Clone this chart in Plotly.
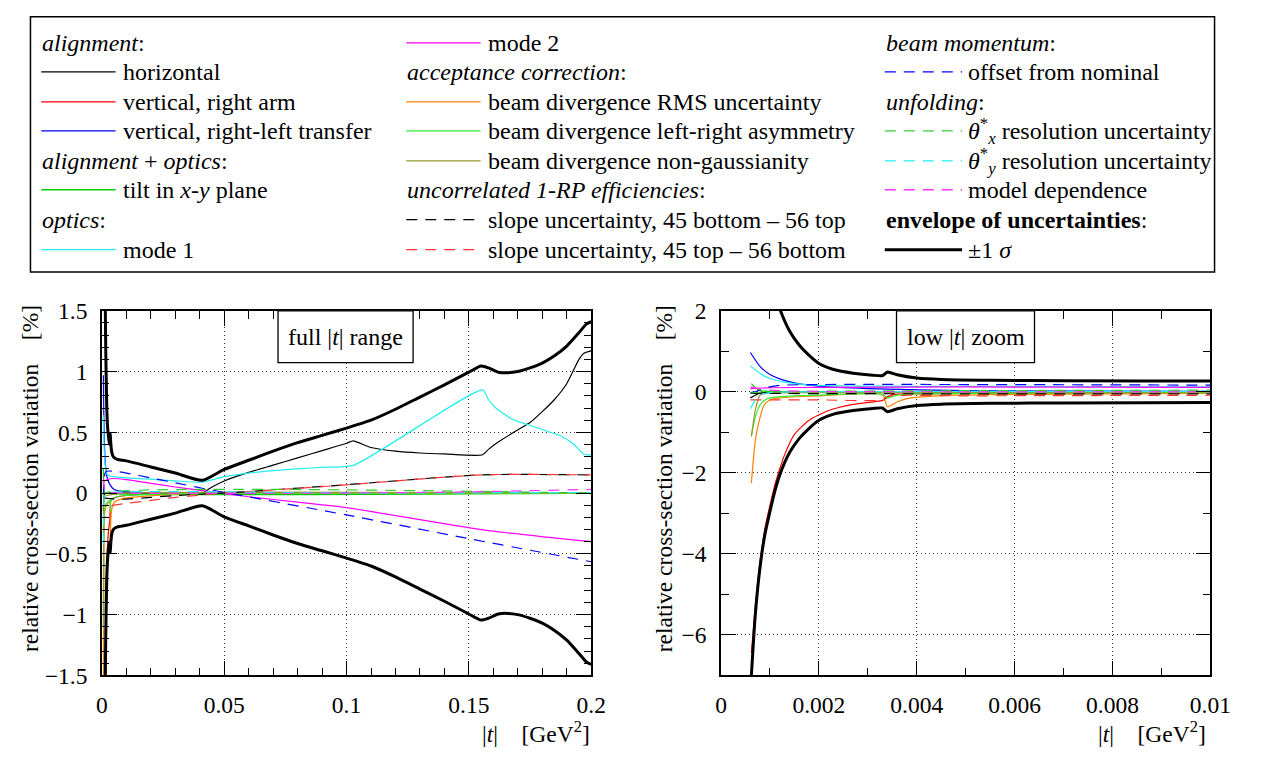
import plotly.graph_objects as go

# ---------------- data (|t| in GeV^2, relative variation in %) ----------------
T_ENV = [0.00062, 0.0007, 0.0008, 0.0009, 0.001, 0.0011, 0.0012, 0.0014, 0.0016, 0.0018, 0.002, 0.0023,
         0.0027, 0.0031, 0.0033, 0.0034, 0.0036, 0.004, 0.0045, 0.0055, 0.007, 0.01, 0.02, 0.03, 0.041,
         0.05, 0.06, 0.07, 0.08, 0.09, 0.1, 0.11, 0.12, 0.13, 0.14, 0.15, 0.155, 0.158, 0.162, 0.166,
         0.17, 0.175, 0.18, 0.185, 0.19, 0.195, 0.198, 0.2]
ENV = [7.0, 5.5, 4.3, 3.5, 2.95, 2.45, 2.05, 1.5, 1.15, 0.9, 0.7, 0.55,
       0.46, 0.41, 0.40, 0.49, 0.42, 0.34, 0.305, 0.285, 0.275, 0.265, 0.215, 0.165, 0.105,
       0.195, 0.27, 0.345, 0.415, 0.475, 0.535, 0.6, 0.69, 0.79, 0.89, 0.995, 1.045, 1.03, 0.995, 0.99,
       1.0, 1.03, 1.07, 1.13, 1.21, 1.32, 1.39, 1.41]

T_HOR = [0.0006, 0.0008, 0.001, 0.002, 0.01, 0.03, 0.041, 0.045, 0.05, 0.06, 0.07, 0.08, 0.09, 0.1,
         0.1027, 0.11, 0.12, 0.13, 0.14, 0.1556, 0.158, 0.162, 0.17, 0.175, 0.18, 0.185, 0.19, 0.195,
         0.197, 0.2]
HOR = [-0.15, -0.03, -0.01, 0.0, 0.0, 0.0, 0.0, 0.05, 0.1, 0.17, 0.23, 0.29, 0.35, 0.41,
       0.43, 0.375, 0.345, 0.33, 0.322, 0.315, 0.36, 0.42, 0.52, 0.58, 0.67, 0.77, 0.9, 1.1,
       1.15, 1.17]

T_RED = [0.00062, 0.0007, 0.0008, 0.0009, 0.001, 0.0011, 0.0012, 0.0013, 0.0015, 0.0018, 0.0022,
         0.0027, 0.0033, 0.0035, 0.004, 0.005, 0.01, 0.03, 0.2]
RED = [-6.45, -5.3, -4.15, -3.35, -2.8, -2.3, -1.9, -1.55, -1.05, -0.7, -0.46,
       -0.31, -0.21, -0.07, -0.05, -0.04, -0.02, 0.0, 0.0]

T_VRL = [0.0006, 0.0008, 0.001, 0.0012, 0.0015, 0.002, 0.003, 0.005, 0.01, 0.05, 0.2]
VRL = [0.97, 0.62, 0.43, 0.32, 0.22, 0.14, 0.08, 0.03, 0.01, 0.0, 0.0]

T_TILT = [0.00062, 0.0007, 0.0008, 0.001, 0.002, 0.2]
TILT = [0.2, 0.1, 0.03, 0.01, 0.0, 0.0]

T_M1 = [0.0006, 0.0008, 0.001, 0.0013, 0.0016, 0.002, 0.003, 0.005, 0.01, 0.02, 0.03, 0.041, 0.05,
        0.06, 0.07, 0.081, 0.09, 0.1027, 0.1556, 0.158, 0.161, 0.1676, 0.1876, 0.193, 0.197, 0.2]
M1 = [0.64, 0.45, 0.33, 0.24, 0.19, 0.16, 0.14, 0.135, 0.125, 0.115, 0.1, 0.09, 0.135,
      0.165, 0.185, 0.201, 0.212, 0.228, 0.849, 0.77, 0.7, 0.61, 0.47, 0.4, 0.32, 0.315]

T_M2 = [0.0006, 0.001, 0.002, 0.005, 0.01, 0.02, 0.03, 0.041, 0.06, 0.08, 0.1, 0.155, 0.2]
M2 = [0.08, 0.1, 0.11, 0.12, 0.11, 0.08, 0.05, 0.02, -0.03, -0.075, -0.12, -0.3, -0.4]

T_RMS = [0.00062, 0.0007, 0.00078, 0.00088, 0.001, 0.0012, 0.0016, 0.002, 0.0033, 0.0034, 0.0036,
         0.0038, 0.0044, 0.0055, 0.01, 0.03, 0.05, 0.2]
RMS = [-2.25, -1.2, -0.71, -0.33, -0.2, -0.15, -0.12, -0.1, -0.07, -0.37, -0.25,
       -0.17, -0.1, -0.07, -0.04, -0.01, 0.0, 0.0]

T_LRA = [0.00062, 0.0007, 0.0008, 0.0009, 0.001, 0.0015, 0.002, 0.0033, 0.0034, 0.0036, 0.004,
         0.006, 0.01, 0.05, 0.2]
LRA = [-1.1, -0.62, -0.32, -0.2, -0.15, -0.1, -0.08, -0.06, -0.15, -0.08, -0.05,
       -0.03, -0.02, 0.0, 0.0]

T_NG = [0.00062, 0.0007, 0.0008, 0.001, 0.002, 0.01, 0.2]
NG = [-1.1, -0.45, -0.08, -0.03, -0.02, 0.0, 0.0]

T_SL1 = [0.0006, 0.005, 0.01, 0.02, 0.03, 0.041, 0.05, 0.081, 0.1, 0.155, 0.2]
SL1 = [-0.04, -0.05, -0.05, -0.035, -0.02, -0.008, 0.0, 0.042, 0.069, 0.15, 0.15]

T_SL2 = [0.0006, 0.002, 0.0033, 0.0034, 0.005, 0.01, 0.02, 0.03, 0.041, 0.05, 0.081, 0.1, 0.155, 0.2]
SL2 = [-0.2, -0.2, -0.2, -0.11, -0.1, -0.085, -0.06, -0.035, -0.015, 0.0, 0.04, 0.068, 0.15, 0.15]

T_BMO = [0.0006, 0.0007, 0.0009, 0.0012, 0.002, 0.005, 0.01, 0.02, 0.03, 0.041, 0.1, 0.15, 0.2]
BMO = [-0.02, 0.0, 0.1, 0.16, 0.18, 0.18, 0.165, 0.125, 0.085, 0.04, -0.18, -0.375, -0.565]

T_THX = [0.0006, 0.001, 0.2]
THX = [-0.03, 0.0, 0.0]

T_THY = [0.0006, 0.0007, 0.0008, 0.001, 0.002, 0.1, 0.2]
THY = [-0.42, -0.2, -0.08, -0.02, 0.0, 0.0, 0.005]

T_MOD = [0.0006, 0.0008, 0.001, 0.002, 0.01, 0.1, 0.15, 0.2]
MOD = [0.12, 0.07, 0.04, 0.01, 0.0, 0.0, 0.01, 0.03]

# ---------------- styles / layout ----------------
W, H = 1261, 764
FONT = "Liberation Serif, Times New Roman, serif"
FS = 23.5      # axis text
FL = 24        # legend / box text
DASH = "11px,8px"

C_CYAN = "#22eeee"
SERIES = [
    (T_HOR, HOR, "#000000", "solid"),
    (T_RED, RED, "#ff0000", "solid"),
    (T_VRL, VRL, "#0000ff", "solid"),
    (T_TILT, TILT, "#00cc00", "solid"),
    (T_M1, M1, C_CYAN, "solid"),
    (T_M2, M2, "#ff00ff", "solid"),
    (T_RMS, RMS, "#ff8000", "solid"),
    (T_LRA, LRA, "#33ee33", "solid"),
    (T_NG, NG, "#999933", "solid"),
    (T_SL1, SL1, "#000000", DASH),
    (T_SL2, SL2, "#ff3333", DASH),
    (T_BMO, BMO, "#0000ff", DASH),
    (T_THX, THX, "#33cc33", DASH),
    (T_THY, THY, C_CYAN, DASH),
    (T_MOD, MOD, "#ff33ff", DASH),
]

fig = go.Figure()
for xa, ya in (("x", "y"), ("x2", "y2")):
    for t, v, col, dash in SERIES:
        fig.add_trace(go.Scatter(x=t, y=v, mode="lines", xaxis=xa, yaxis=ya,
                                 line=dict(color=col, width=1.2, dash=dash, shape="spline", smoothing=0.6),
                                 hoverinfo="skip"))
    fig.add_trace(go.Scatter(x=T_ENV, y=ENV, mode="lines", xaxis=xa, yaxis=ya,
                             line=dict(color="black", width=3, shape="spline", smoothing=0.6),
                             hoverinfo="skip"))
    fig.add_trace(go.Scatter(x=T_ENV, y=[-e for e in ENV], mode="lines", xaxis=xa, yaxis=ya,
                             line=dict(color="black", width=3, shape="spline", smoothing=0.6),
                             hoverinfo="skip"))


def px(xp):
    return xp / W


def py(yp):
    return 1 - yp / H


YD = [py(685.7), py(308.3)]
axfont = dict(family=FONT, size=FS, color="black")
common = dict(showline=True, linecolor="black", linewidth=1.6, mirror="allticks",
              ticks="inside", tickcolor="black", tickwidth=1.2, showgrid=True,
              gridcolor="#333333", griddash="1px,3px", gridwidth=1, zeroline=False,
              tickfont=axfont, ticklabelstandoff=8)

fig.update_layout(
    width=W, height=H, margin=dict(l=0, r=0, t=0, b=0),
    paper_bgcolor="white", plot_bgcolor="white", showlegend=False,
    font=dict(family=FONT, size=FS, color="black"),
    xaxis=dict(domain=[px(98), px(598)], range=[0, 0.2], tick0=0, dtick=0.05, ticklen=15,
               minor=dict(dtick=0.01, tick0=0, ticklen=8, ticks="inside", tickcolor="black", showgrid=False),
               anchor="y", **common),
    yaxis=dict(domain=YD, range=[-1.5, 1.5], tick0=0, dtick=0.5, ticklen=15,
               minor=dict(dtick=0.1, tick0=0, ticklen=7, ticks="inside", tickcolor="black", showgrid=False),
               anchor="x", **common),
    xaxis2=dict(domain=[px(730.7), px(1230.7)], range=[0, 0.01], tick0=0, dtick=0.002, ticklen=15,
                minor=dict(dtick=0.001, tick0=0, ticklen=8, ticks="inside", tickcolor="black", showgrid=False),
                anchor="y2", **common),
    yaxis2=dict(domain=YD, range=[-7, 2], tick0=0, dtick=2, ticklen=15,
                minor=dict(dtick=1, tick0=0, ticklen=8, ticks="inside", tickcolor="black", showgrid=False),
                anchor="x2", **common),
)

shapes = []
ann = []

# legend frame
shapes.append(dict(type="rect", xref="paper", yref="paper", x0=px(25), x1=px(1235), y0=py(268), y1=py(4),
                   line=dict(color="black", width=1.5), fillcolor="white", layer="below"))

ROWS = [31, 61, 92, 122, 153, 183, 214, 245]
LEG = [
    # (x_line0, x_line1, x_text, entries)
    (36, 112, 118, [
        ("h", "<i>alignment</i>:"),
        (("#000000", "solid", 1.3), "horizontal"),
        (("#ff0000", "solid", 1.3), "vertical, right arm"),
        (("#0000ff", "solid", 1.3), "vertical, right-left transfer"),
        ("h", "<i>alignment</i> + <i>optics</i>:"),
        (("#00cc00", "solid", 1.3), "tilt in <i>x</i>-<i>y</i> plane"),
        ("h", "<i>optics</i>:"),
        ((C_CYAN, "solid", 1.3), "mode 1"),
    ]),
    (409, 485, 491, [
        (("#ff00ff", "solid", 1.3), "mode 2"),
        ("h", "<i>acceptance correction</i>:"),
        (("#ff8000", "solid", 1.3), "beam divergence RMS uncertainty"),
        (("#33ee33", "solid", 1.3), "beam divergence left-right asymmetry"),
        (("#999933", "solid", 1.3), "beam divergence non-gaussianity"),
        ("h", "<i>uncorrelated 1-RP efficiencies</i>:"),
        (("#000000", DASH, 1.3), "slope uncertainty, 45 bottom \u2013 56 top"),
        (("#ff3333", DASH, 1.3), "slope uncertainty, 45 top \u2013 56 bottom"),
    ]),
    (898, 977, 981, [
        ("h", "<i>beam momentum</i>:"),
        (("#0000ff", DASH, 1.3), "offset from nominal"),
        ("h", "<i>unfolding</i>:"),
        (("#33cc33", DASH, 1.3), "<i>\u03b8</i><sup>*</sup><sub><i>x</i></sub> resolution uncertainty"),
        ((C_CYAN, DASH, 1.3), "<i>\u03b8</i><sup>*</sup><sub><i>y</i></sub> resolution uncertainty"),
        (("#ff33ff", DASH, 1.3), "model dependence"),
        ("h", "<b>envelope of uncertainties</b>:"),
        (("#000000", "solid", 3), "\u00b11 <i>\u03c3</i>"),
    ]),
]
for xl0, xl1, xt, entries in LEG:
    for k, (sty, txt) in enumerate(entries):
        yy = ROWS[k]
        if sty == "h":
            ann.append(dict(x=px(xl0 - 1), y=py(yy), xref="paper", yref="paper", text=txt, showarrow=False,
                            xanchor="left", yanchor="middle", font=dict(family=FONT, size=FL, color="black")))
        else:
            col, dash, lw = sty
            shapes.append(dict(type="line", xref="paper", yref="paper", x0=px(xl0), x1=px(xl1),
                               y0=py(yy), y1=py(yy), line=dict(color=col, width=lw, dash=dash)))
            ann.append(dict(x=px(xt), y=py(yy), xref="paper", yref="paper", text=txt, showarrow=False,
                            xanchor="left", yanchor="middle", font=dict(family=FONT, size=FL, color="black")))

# title boxes inside the plots
for x0, x1, txt in ((278, 416, "full |<i>t</i>| range"), (910, 1051, "low |<i>t</i>| zoom")):
    shapes.append(dict(type="rect", xref="paper", yref="paper", x0=px(x0), x1=px(x1), y0=py(362), y1=py(308.3),
                       line=dict(color="black", width=1.3), fillcolor="white", layer="above"))
    ann.append(dict(x=px((x0 + x1) / 2), y=py(335), xref="paper", yref="paper", text=txt, showarrow=False,
                    xanchor="center", yanchor="middle", font=dict(family=FONT, size=FL, color="black")))

# axis titles
ytitle = "relative cross-section variation\u00a0\u00a0\u00a0\u00a0[%]"
for xc in (24, 672):
    ann.append(dict(x=px(xc), y=py(482), xref="paper", yref="paper", text=ytitle, textangle=-90,
                    showarrow=False, xanchor="center", yanchor="middle",
                    font=dict(family=FONT, size=FS, color="black")))
xtitle = "|<i>t</i>|\u00a0\u00a0\u00a0\u00a0[GeV<sup>2</sup>]"
for xr in (599, 1228):
    ann.append(dict(x=px(xr), y=py(744), xref="paper", yref="paper", text=xtitle, showarrow=False,
                    xanchor="right", yanchor="middle", font=dict(family=FONT, size=FS, color="black")))

fig.update_layout(shapes=shapes, annotations=ann)
# remove the default 8px page margin so the figure sits at the window origin
fig.write_html("out.html", config={"displayModeBar": False},
               post_script="document.body.style.margin='0px';")
